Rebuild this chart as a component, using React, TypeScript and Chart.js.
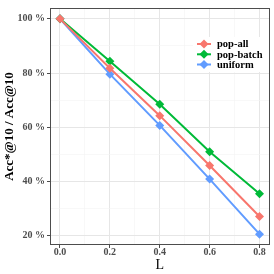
import React, { useEffect, useRef } from "react";
import { Chart, registerables } from "chart.js";

Chart.register(...registerables);

const L = [0, 0.2, 0.4, 0.6, 0.8];
const popAll = [100, 81.8, 64.3, 45.9, 27.1];
const popBatch = [100, 84.4, 68.5, 51.0, 35.5];
const uniform = [100, 79.6, 60.7, 40.9, 20.6];
const seriesNames = ["pop-all", "pop-batch", "uniform"];
const seriesColors = ["#F8766D", "#00BA38", "#619CFF"];
const yTicks = [20, 30, 40, 50, 60, 70, 80, 90, 100];
const yMajor = [20, 40, 60, 80, 100];
const xTicks = [0, 0.1, 0.2, 0.3, 0.4, 0.5, 0.6, 0.7, 0.8];
const xMajor = [0, 0.2, 0.4, 0.6, 0.8];

const SERIF = "'Liberation Serif', 'Times New Roman', serif";

const isMajor = (v: number, majors: number[]) => majors.some((m) => Math.abs(m - v) < 1e-6);

const panelPlugin = {
  id: "panel",
  afterDatasetsDraw(chart: any) {
    const { ctx, chartArea } = chart;
    ctx.save();
    const lx = 193, ly = 37, lw = 77, lh = 35;
    ctx.fillStyle = "#ffffff";
    ctx.fillRect(lx, ly, lw, lh);
    const ys = [44, 54.3, 64.5];
    seriesNames.forEach((name, i) => {
      const c = seriesColors[i];
      const y = ys[i];
      ctx.strokeStyle = c;
      ctx.lineWidth = 2;
      ctx.beginPath();
      ctx.moveTo(197, y);
      ctx.lineTo(211, y);
      ctx.stroke();
      ctx.fillStyle = c;
      ctx.beginPath();
      const r = 4.5;
      ctx.moveTo(204, y - r);
      ctx.lineTo(204 + r, y);
      ctx.lineTo(204, y + r);
      ctx.lineTo(204 - r, y);
      ctx.closePath();
      ctx.fill();
      ctx.fillStyle = "#000000";
      ctx.font = `bold 10.5px ${SERIF}`;
      ctx.textBaseline = "middle";
      ctx.textAlign = "left";
      ctx.fillText(name, 217, y + 0.5);
    });
    ctx.strokeStyle = "#4d4d4d";
    ctx.lineWidth = 1;
    ctx.strokeRect(
      Math.round(chartArea.left) + 0.5,
      Math.round(chartArea.top) + 0.5,
      Math.round(chartArea.right - chartArea.left) - 1,
      Math.round(chartArea.bottom - chartArea.top) - 1
    );
    ctx.restore();
  },
};

function makeDataset(label: string, values: number[], color: string) {
  return {
    label,
    data: L.map((x, i) => ({ x, y: values[i] })),
    borderColor: color,
    backgroundColor: color,
    borderWidth: 2,
    pointStyle: "rectRot",
    pointRadius: 4.5,
    pointBorderWidth: 0,
    tension: 0,
  };
}

export default function App() {
  const ref = useRef<HTMLCanvasElement | null>(null);
  useEffect(() => {
    if (!ref.current) return;
    const chart = new Chart(ref.current, {
      type: "line",
      data: {
        datasets: [
          makeDataset(seriesNames[0], popAll, seriesColors[0]),
          makeDataset(seriesNames[1], popBatch, seriesColors[1]),
          makeDataset(seriesNames[2], uniform, seriesColors[2]),
        ],
      },
      options: {
        responsive: false,
        animation: false,
        layout: { padding: { top: 3, right: 4, left: 0, bottom: 0 } },
        plugins: { legend: { display: false }, tooltip: { enabled: false } },
        scales: {
          x: {
            type: "linear",
            min: -0.04,
            max: 0.84,
            afterBuildTicks: (s: any) => {
              s.ticks = xTicks.map((v) => ({ value: v }));
            },
            afterFit: (s: any) => {
              s.height = 29;
            },
            border: { display: false },
            grid: {
              color: (c: any) => (isMajor(c.tick?.value, xMajor) ? "#e6e6e6" : "#f3f3f3"),
              lineWidth: (c: any) => (isMajor(c.tick?.value, xMajor) ? 1 : 0.6),
              tickLength: 3,
              tickColor: (c: any) => (isMajor(c.tick?.value, xMajor) ? "#4d4d4d" : "rgba(0,0,0,0)"),
            },
            ticks: {
              autoSkip: false,
              maxRotation: 0,
              padding: -2,
              color: "#4d4d4d",
              font: { family: SERIF, size: 10, weight: "bold" },
              callback: (v: any) => (isMajor(Number(v), xMajor) ? Number(v).toFixed(1) : ""),
            },
            title: {
              display: true,
              text: "L",
              color: "#000000",
              font: { family: SERIF, size: 14 },
              padding: { top: -2, bottom: 0 },
            },
          },
          y: {
            type: "linear",
            min: 16.6,
            max: 104,
            afterBuildTicks: (s: any) => {
              s.ticks = yTicks.map((v) => ({ value: v }));
            },
            afterFit: (s: any) => {
              s.width = 50;
            },
            border: { display: false },
            grid: {
              color: (c: any) => (isMajor(c.tick?.value, yMajor) ? "#e6e6e6" : "#f3f3f3"),
              lineWidth: (c: any) => (isMajor(c.tick?.value, yMajor) ? 1 : 0.6),
              tickLength: 3,
              tickColor: (c: any) => (isMajor(c.tick?.value, yMajor) ? "#4d4d4d" : "rgba(0,0,0,0)"),
            },
            ticks: {
              autoSkip: false,
              padding: 2,
              color: "#4d4d4d",
              font: { family: SERIF, size: 10, weight: "bold" },
              callback: (v: any) => (isMajor(Number(v), yMajor) ? `${Math.round(Number(v))} %` : ""),
            },
            title: {
              display: true,
              text: "Acc*@10 / Acc@10",
              color: "#000000",
              font: { family: SERIF, size: 13, weight: "bold" },
              padding: { top: 2, bottom: 0 },
            },
          },
        },
      } as any,
      plugins: [panelPlugin],
    });
    return () => chart.destroy();
  }, []);
  return (
    <div style={{ position: "fixed", left: 0, top: 0, width: 274, height: 274, background: "#fff" }}>
      <canvas ref={ref} width={274} height={274} style={{ display: "block" }} />
    </div>
  );
}
